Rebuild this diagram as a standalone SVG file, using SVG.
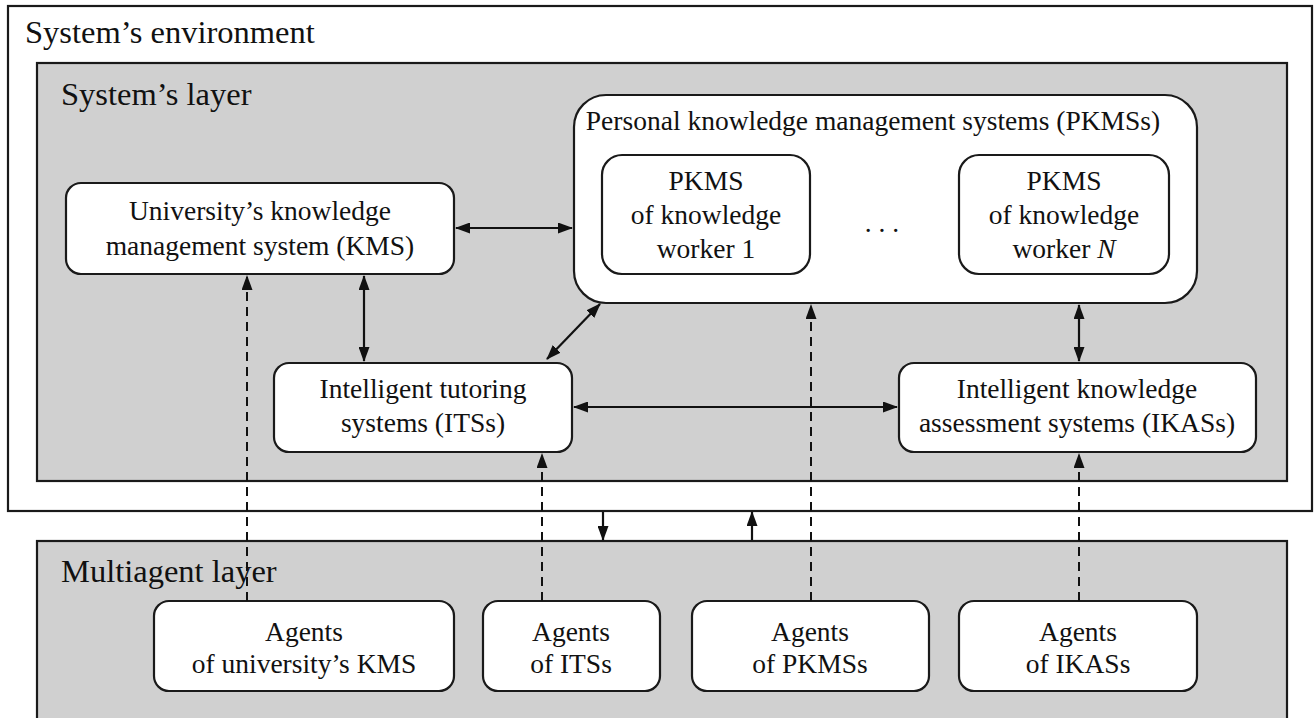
<svg xmlns="http://www.w3.org/2000/svg" width="1316" height="718" viewBox="0 0 1316 718">
<style>
.layer{fill:#d0d0d0;stroke:#1a1a1a;stroke-width:2.2}
.env{fill:#ffffff;stroke:#1a1a1a;stroke-width:2.2}
.box{fill:#ffffff;stroke:#1a1a1a;stroke-width:2.2}
.lbl{font-family:"Liberation Serif","Times New Roman",serif;font-size:32.5px;fill:#111}
.t{font-family:"Liberation Serif","Times New Roman",serif;font-size:27.5px;fill:#111;text-anchor:middle}
.c{fill:none;stroke:#111;stroke-width:2.2}
.d{fill:none;stroke:#111;stroke-width:2;stroke-dasharray:9,6}
</style>
<defs>
<marker id="ah" markerUnits="userSpaceOnUse" markerWidth="15" markerHeight="11" refX="14" refY="5.5" orient="auto-start-reverse">
<path d="M0,0 L15,5.5 L0,11 z" fill="#111"/>
</marker>
</defs>
<g id="environment">
<rect class="env" x="8" y="6" width="1304" height="505"/>
<text class="lbl" x="25" y="43">System’s environment</text>
</g>
<g id="systems-layer">
<rect class="layer" x="37" y="63" width="1250" height="418"/>
<text class="lbl" x="61" y="105">System’s layer</text>
</g>
<g id="multiagent-layer">
<rect class="layer" x="37" y="541" width="1250" height="200"/>
<text class="lbl" x="61" y="582">Multiagent layer</text>
</g>
<g id="kms">
<rect class="box" x="66" y="183" width="388" height="91" rx="15"/>
<text class="t" x="260" y="220">University’s knowledge</text>
<text class="t" x="260" y="255">management system (KMS)</text>
</g>
<g id="pkmss">
<rect class="box" x="574" y="95" width="623" height="208" rx="32"/>
<text class="t" x="873" y="130">Personal knowledge management systems (PKMSs)</text>
<text class="t" x="882" y="232">. . .</text>
</g>
<g id="pkms1">
<rect class="box" x="602" y="155" width="208" height="119" rx="20"/>
<text class="t" x="706" y="190">PKMS</text>
<text class="t" x="706" y="224">of knowledge</text>
<text class="t" x="706" y="258">worker 1</text>
</g>
<g id="pkmsN">
<rect class="box" x="959" y="155" width="210" height="119" rx="20"/>
<text class="t" x="1064" y="190">PKMS</text>
<text class="t" x="1064" y="224">of knowledge</text>
<text class="t" x="1064" y="258">worker <tspan font-style="italic">N</tspan></text>
</g>
<g id="its">
<rect class="box" x="274" y="363" width="298" height="89" rx="15"/>
<text class="t" x="423" y="398">Intelligent tutoring</text>
<text class="t" x="423" y="432">systems (ITSs)</text>
</g>
<g id="ikas">
<rect class="box" x="899" y="363" width="357" height="89" rx="15"/>
<text class="t" x="1077" y="398">Intelligent knowledge</text>
<text class="t" x="1077" y="432">assessment systems (IKASs)</text>
</g>
<g id="agents-kms">
<rect class="box" x="154" y="601" width="300" height="90" rx="15"/>
<text class="t" x="304" y="641">Agents</text>
<text class="t" x="304" y="673">of university’s KMS</text>
</g>
<g id="agents-its">
<rect class="box" x="483" y="601" width="177" height="90" rx="15"/>
<text class="t" x="571" y="641">Agents</text>
<text class="t" x="571" y="673">of ITSs</text>
</g>
<g id="agents-pkmss">
<rect class="box" x="692" y="601" width="237" height="90" rx="15"/>
<text class="t" x="810" y="641">Agents</text>
<text class="t" x="810" y="673">of PKMSs</text>
</g>
<g id="agents-ikass">
<rect class="box" x="959" y="601" width="238" height="90" rx="15"/>
<text class="t" x="1078" y="641">Agents</text>
<text class="t" x="1078" y="673">of IKASs</text>
</g>
<g id="connectors">
<line class="c" x1="456" y1="228" x2="572" y2="228" marker-start="url(#ah)" marker-end="url(#ah)"/>
<line class="c" x1="364" y1="276" x2="364" y2="361" marker-start="url(#ah)" marker-end="url(#ah)"/>
<line class="c" x1="547" y1="359" x2="600" y2="304" marker-start="url(#ah)" marker-end="url(#ah)"/>
<line class="c" x1="574" y1="407" x2="897" y2="407" marker-start="url(#ah)" marker-end="url(#ah)"/>
<line class="c" x1="1079" y1="305" x2="1079" y2="361" marker-start="url(#ah)" marker-end="url(#ah)"/>
<line class="d" x1="247" y1="601" x2="247" y2="276" marker-end="url(#ah)"/>
<line class="d" x1="542" y1="601" x2="542" y2="454" marker-end="url(#ah)"/>
<line class="d" x1="811" y1="601" x2="811" y2="305" marker-end="url(#ah)"/>
<line class="d" x1="1079" y1="601" x2="1079" y2="454" marker-end="url(#ah)"/>
<line class="c" x1="603" y1="512" x2="603" y2="540" marker-end="url(#ah)"/>
<line class="c" x1="752" y1="540" x2="752" y2="512" marker-end="url(#ah)"/>
</g>
</svg>
